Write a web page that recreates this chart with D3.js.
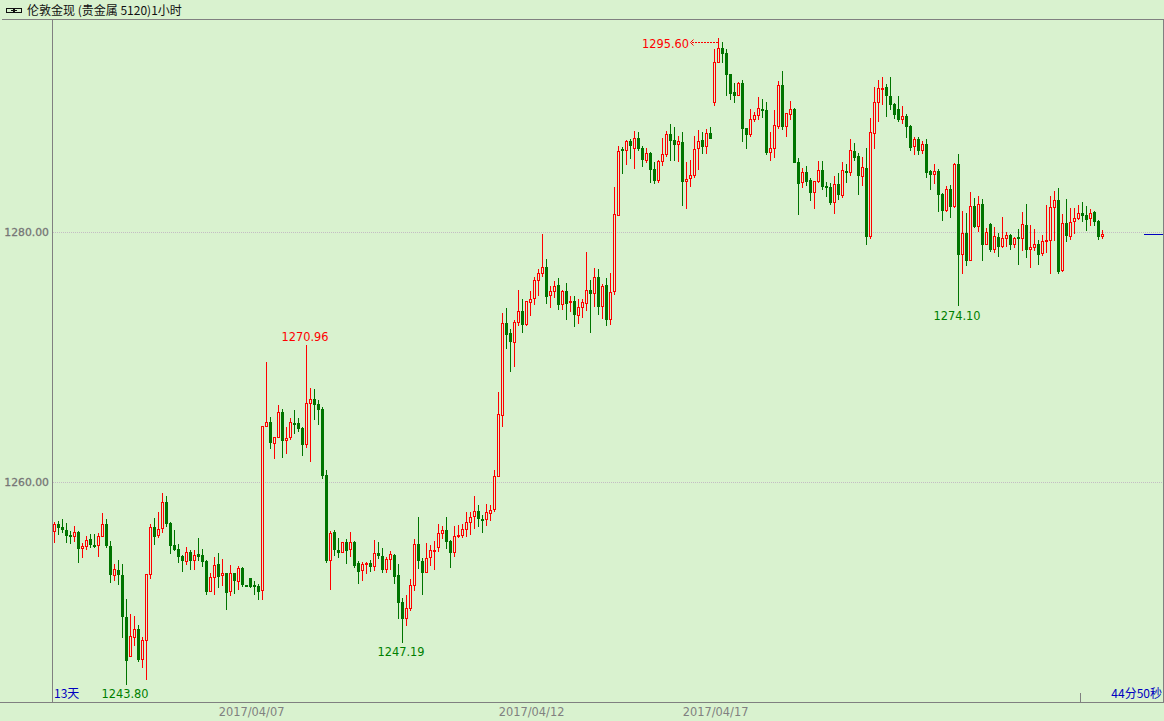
<!DOCTYPE html>
<html><head><meta charset="utf-8">
<script src="https://cdn.jsdelivr.net/npm/d3@7/dist/d3.min.js"></script>
<style>html,body{margin:0;padding:0;background:#d9f2cf;overflow:hidden}svg{display:block}</style>
</head><body><svg id="c" width="1164" height="721"></svg>
<script>
const titleText = "伦敦金现 (贵金属 5120)1小时";
const rangeText = "13天";
const countdownText = "44分50秒";
const priceTicks = [1260, 1280];
const dateTickLabels = ["2017/04/07", "2017/04/12", "2017/04/17"];
const dateTickIndex = [49.4, 119.4, 165.4];
const highMark = {index:166};
const opens = [1256.04,1256.68,1256.44,1256.20,1255.80,1255.64,1256.04,1254.68,1254.84,1255.48,1255.00,1254.92,1255.64,1256.68,1254.92,1252.52,1253.00,1252.60,1249.24,1246.04,1247.56,1248.28,1245.80,1247.32,1252.60,1256.44,1255.72,1256.28,1258.44,1256.76,1255.00,1254.68,1254.12,1253.64,1254.44,1253.72,1254.28,1254.20,1253.72,1251.24,1252.36,1253.48,1252.52,1252.76,1251.24,1252.76,1252.04,1253.16,1251.80,1252.36,1251.80,1251.72,1251.32,1264.44,1264.84,1263.08,1263.56,1265.64,1263.32,1263.56,1264.76,1264.76,1264.36,1263.00,1266.28,1266.68,1266.28,1265.88,1260.60,1253.72,1256.04,1254.60,1254.36,1255.24,1254.60,1255.24,1253.56,1252.92,1253.40,1253.56,1253.24,1254.36,1254.12,1253.00,1253.80,1254.20,1252.60,1250.44,1249.08,1249.88,1251.72,1255.08,1253.72,1252.76,1253.96,1254.52,1254.76,1255.88,1256.20,1255.32,1254.36,1255.64,1255.72,1256.20,1256.76,1257.24,1257.72,1257.08,1257.00,1257.48,1257.80,1260.44,1265.32,1272.76,1271.96,1271.16,1272.76,1273.72,1272.60,1274.36,1274.68,1276.12,1276.68,1277.24,1274.92,1275.24,1275.80,1274.20,1275.32,1274.36,1274.52,1273.32,1273.96,1274.28,1275.40,1275.08,1276.44,1274.04,1275.80,1273.00,1275.24,1281.32,1286.68,1286.52,1287.32,1286.68,1287.56,1286.76,1285.72,1286.36,1285.08,1284.12,1285.64,1286.20,1287.88,1287.40,1287.00,1287.24,1284.04,1284.28,1284.52,1286.68,1287.40,1286.84,1287.96,1290.36,1293.56,1294.76,1294.36,1292.68,1291.24,1290.92,1291.96,1288.36,1287.80,1289.00,1289.32,1289.88,1289.80,1286.36,1286.68,1288.44,1291.80,1288.44,1289.40,1289.88,1285.64,1283.96,1284.84,1284.20,1283.16,1284.04,1285.00,1283.72,1283.64,1282.36,1283.88,1282.92,1284.92,1284.76,1286.52,1286.12,1284.44,1285.16,1279.64,1287.88,1290.36,1291.48,1291.64,1290.92,1290.28,1289.88,1289.00,1289.32,1288.52,1286.84,1287.48,1286.52,1287.08,1284.92,1284.60,1284.92,1283.08,1281.72,1283.48,1282.04,1285.48,1278.20,1279.96,1277.72,1282.12,1280.44,1282.28,1279.00,1280.68,1278.60,1279.64,1278.84,1279.48,1279.80,1279.00,1279.64,1279.48,1280.60,1278.60,1278.76,1279.08,1278.28,1279.32,1279.32,1281.96,1282.60,1276.92,1280.76,1279.64,1280.84,1281.08,1281.56,1281.40,1281.08,1281.64,1280.92,1279.64];
const highs = [1256.84,1256.92,1257.08,1256.76,1256.12,1256.52,1256.12,1255.16,1255.72,1255.88,1255.88,1255.96,1257.56,1257.08,1255.32,1253.48,1253.80,1253.48,1250.68,1249.48,1249.32,1248.60,1247.64,1252.68,1256.68,1257.16,1257.64,1259.16,1258.92,1256.84,1256.20,1255.08,1254.20,1254.84,1254.60,1254.60,1255.56,1254.68,1253.80,1252.76,1254.04,1254.36,1253.88,1252.76,1253.40,1252.76,1253.32,1253.24,1251.80,1252.36,1252.12,1251.88,1264.52,1269.64,1265.24,1263.64,1266.20,1265.88,1264.44,1265.16,1265.80,1265.16,1264.44,1270.96,1267.56,1267.48,1266.60,1266.04,1261.00,1256.12,1256.20,1255.56,1255.24,1255.48,1256.04,1255.32,1253.72,1253.64,1253.64,1253.80,1255.40,1255.24,1254.76,1254.04,1254.52,1254.28,1253.48,1250.76,1251.00,1252.28,1255.48,1257.24,1253.96,1255.16,1255.00,1255.32,1256.68,1256.52,1257.24,1255.40,1256.52,1256.60,1256.68,1257.64,1257.64,1258.92,1258.20,1257.40,1258.28,1258.20,1261.00,1267.24,1273.56,1273.96,1272.28,1273.00,1275.40,1274.68,1274.52,1275.32,1276.44,1277.08,1279.88,1277.88,1275.72,1276.12,1276.36,1275.40,1275.96,1274.92,1274.92,1274.68,1274.68,1278.44,1276.20,1277.16,1277.08,1275.88,1276.36,1276.76,1283.64,1286.92,1286.84,1287.40,1287.48,1288.12,1288.04,1286.92,1286.76,1286.44,1285.64,1285.80,1287.56,1288.12,1288.68,1288.44,1287.72,1288.04,1285.64,1285.80,1287.72,1288.20,1288.04,1288.28,1288.44,1294.68,1295.60,1295.24,1294.68,1292.68,1291.96,1292.04,1292.20,1288.36,1289.88,1289.64,1290.84,1290.68,1290.44,1288.04,1289.80,1292.12,1292.92,1289.56,1290.52,1289.96,1285.96,1285.16,1285.32,1284.36,1284.12,1285.72,1285.72,1284.04,1283.96,1284.52,1284.76,1285.64,1285.48,1287.48,1287.16,1286.36,1286.04,1286.76,1289.16,1291.64,1292.20,1292.44,1291.88,1292.44,1290.36,1290.92,1290.12,1289.48,1288.60,1287.64,1287.64,1287.32,1287.48,1285.00,1285.48,1285.08,1283.16,1283.72,1283.80,1285.56,1286.28,1281.72,1281.56,1283.24,1282.76,1282.92,1282.68,1280.36,1280.76,1280.44,1279.96,1281.24,1280.04,1279.88,1279.64,1280.28,1281.64,1282.28,1280.60,1280.28,1279.40,1279.80,1282.20,1282.92,1283.32,1283.56,1281.48,1282.68,1281.96,1281.96,1282.20,1282.44,1282.12,1281.88,1281.72,1281.00,1280.20];
const lows = [1255.16,1255.80,1255.96,1255.16,1255.08,1255.24,1253.56,1253.96,1254.60,1254.76,1254.76,1254.04,1255.64,1254.76,1251.96,1252.12,1251.80,1247.56,1243.80,1246.04,1246.92,1245.64,1245.16,1244.20,1252.28,1255.00,1255.56,1255.96,1256.44,1254.28,1254.52,1253.56,1252.84,1253.40,1253.00,1253.00,1253.72,1253.24,1251.00,1251.24,1251.00,1251.56,1251.72,1249.80,1250.92,1251.08,1251.40,1251.64,1251.64,1251.56,1251.00,1250.60,1250.60,1264.44,1262.68,1261.88,1263.56,1261.96,1262.28,1263.40,1263.88,1264.04,1262.12,1262.76,1261.64,1265.00,1264.60,1260.28,1253.56,1251.40,1254.12,1253.96,1254.36,1253.48,1254.04,1253.16,1251.88,1252.12,1252.68,1252.84,1252.92,1253.88,1252.76,1252.76,1253.00,1251.88,1249.08,1247.19,1248.52,1249.72,1251.32,1253.08,1251.00,1252.76,1253.32,1253.00,1254.44,1255.48,1254.68,1253.16,1254.04,1255.56,1255.56,1255.64,1255.80,1256.28,1256.44,1255.96,1256.52,1256.92,1257.64,1260.44,1264.44,1270.68,1268.84,1269.24,1272.52,1271.96,1272.52,1273.32,1274.20,1274.92,1276.44,1274.28,1273.96,1274.76,1273.80,1273.80,1273.00,1273.64,1272.44,1272.68,1273.16,1273.72,1271.96,1274.04,1273.40,1273.08,1272.52,1272.60,1275.00,1281.32,1284.68,1285.40,1285.88,1285.08,1286.52,1285.24,1285.56,1283.96,1283.88,1283.96,1285.32,1286.04,1285.72,1285.72,1285.64,1282.12,1281.88,1283.64,1284.36,1285.00,1286.28,1286.28,1287.48,1290.12,1293.56,1293.56,1290.92,1290.60,1290.36,1290.92,1287.24,1286.68,1287.64,1288.84,1289.00,1289.16,1286.20,1285.72,1285.96,1288.28,1288.20,1287.64,1289.00,1285.56,1281.40,1283.56,1283.72,1282.52,1281.88,1283.96,1283.40,1282.84,1282.20,1281.48,1282.60,1282.76,1283.96,1284.52,1285.72,1283.00,1283.72,1279.00,1279.48,1286.68,1288.84,1290.20,1289.24,1289.80,1289.08,1288.84,1288.68,1287.56,1286.52,1286.20,1286.20,1286.28,1284.36,1283.40,1283.88,1281.64,1280.92,1281.64,1281.16,1281.96,1274.10,1276.68,1277.32,1277.72,1280.36,1280.04,1277.72,1279.00,1278.44,1278.36,1278.04,1278.76,1278.84,1278.60,1278.76,1277.40,1278.52,1277.96,1277.16,1278.52,1277.40,1278.12,1278.36,1276.68,1279.32,1276.68,1276.84,1279.24,1279.40,1279.88,1281.00,1280.84,1280.12,1280.52,1280.52,1279.40,1279.48];
const closes = [1256.68,1256.36,1256.20,1255.72,1255.64,1256.04,1254.68,1254.92,1255.40,1255.00,1254.84,1255.72,1256.68,1254.92,1252.60,1253.08,1252.60,1249.24,1245.72,1247.72,1248.28,1245.80,1247.40,1252.68,1256.44,1255.64,1256.28,1258.44,1256.68,1254.92,1254.60,1254.04,1253.72,1254.44,1253.72,1254.20,1254.04,1253.64,1251.24,1252.44,1253.40,1252.44,1252.76,1251.16,1252.76,1252.12,1253.16,1251.80,1251.64,1251.64,1251.64,1251.24,1264.52,1264.84,1263.16,1263.64,1265.64,1263.32,1263.56,1264.84,1264.60,1264.28,1263.00,1266.36,1266.68,1266.20,1265.80,1260.52,1253.72,1255.96,1254.60,1254.36,1255.24,1254.52,1255.24,1253.32,1252.84,1253.48,1253.56,1253.24,1254.36,1254.12,1253.00,1253.88,1254.28,1252.44,1250.36,1249.08,1249.96,1251.80,1255.08,1253.72,1252.76,1253.96,1254.60,1254.60,1255.96,1256.20,1255.24,1254.36,1255.72,1255.80,1256.28,1256.84,1257.24,1257.72,1257.08,1256.92,1257.64,1257.80,1260.52,1265.48,1272.76,1271.80,1271.24,1272.84,1273.72,1272.60,1274.52,1274.68,1276.20,1276.76,1277.24,1274.84,1275.32,1275.72,1274.20,1275.32,1274.28,1274.52,1273.40,1274.04,1274.44,1275.40,1275.08,1276.44,1274.04,1275.72,1273.00,1275.24,1281.48,1286.52,1286.52,1287.32,1286.92,1287.56,1286.68,1285.80,1286.36,1285.00,1284.12,1285.72,1286.28,1287.88,1287.32,1287.00,1287.32,1284.04,1284.28,1284.60,1286.68,1287.32,1286.84,1287.96,1287.48,1293.64,1294.76,1294.28,1292.60,1291.08,1290.92,1291.96,1288.28,1287.80,1289.08,1289.40,1289.96,1289.72,1286.36,1286.76,1288.60,1291.80,1288.44,1289.56,1289.88,1285.56,1283.88,1284.84,1284.04,1283.16,1284.12,1285.00,1283.64,1283.56,1282.36,1283.88,1283.00,1285.00,1284.76,1286.60,1285.96,1284.52,1285.24,1279.64,1288.04,1290.44,1291.56,1291.56,1290.92,1290.20,1289.40,1289.00,1289.32,1288.44,1286.76,1287.48,1286.52,1287.08,1284.76,1284.60,1284.92,1283.00,1281.72,1283.48,1282.04,1285.48,1278.20,1279.96,1277.72,1282.12,1280.44,1282.28,1279.00,1280.04,1278.60,1279.72,1278.84,1279.56,1279.80,1279.00,1279.56,1279.48,1280.68,1278.60,1278.84,1279.08,1278.20,1279.32,1279.40,1282.04,1282.60,1276.84,1280.76,1279.72,1280.84,1281.16,1281.56,1281.32,1281.00,1281.56,1280.84,1279.64,1279.88];

const bg = "#d9f2cf", axisCol = "#808080", red = "#ff0000", green = "#007400", blue = "#0000c0", labelGreen = "#007f00";
const labelFont = "'DejaVu Sans', 'Liberation Sans', sans-serif";
const cjk = "'Noto Sans CJK SC', 'Liberation Sans', sans-serif";
const svg = d3.select("#c");
const x = d3.scaleLinear().domain([0, opens.length - 1]).range([54.5, 1102.5]);
const y = d3.scaleLinear().domain(priceTicks).range([482.5, 232.5]);
const py = v => Math.round(y(v));

svg.append("rect").attr("width",1164).attr("height",721).attr("fill",bg);

// frame
const frame = svg.append("g").attr("stroke",axisCol).attr("fill","none").attr("shape-rendering","crispEdges");
frame.append("path").attr("d","M2,19.5H1164M52.5,19.5V702.5M0,702.5H1164M1163.5,19.5V702.5M1080.5,693V702");

// grid + y labels using d3 axis
const yAxis = d3.axisLeft(y).tickValues(priceTicks).tickSize(0).tickPadding(3).tickFormat(d=>d.toFixed(2));
const gy = svg.append("g").attr("transform","translate(52,0)").call(yAxis);
gy.select(".domain").remove();
gy.selectAll("text").attr("font-family",labelFont).attr("font-size",10.8).attr("font-weight","normal").attr("fill","#6e6e6e").attr("stroke","#808080").attr("stroke-width",0.3).attr("dy","0.32em");
svg.append("g").selectAll("line").data(priceTicks).join("line")
  .attr("x1",53).attr("x2",1163).attr("y1",d=>y(d)).attr("y2",d=>y(d))
  .attr("stroke","#c4bcc4").attr("stroke-dasharray","1 1").attr("shape-rendering","crispEdges");

// date labels
const xAxis = d3.axisBottom(x).tickValues(dateTickIndex).tickSize(0).tickPadding(3).tickFormat((d,i)=>dateTickLabels[i]);
const gx = svg.append("g").attr("transform","translate(-1,705)").call(xAxis);
gx.select(".domain").remove();
gx.selectAll("text").attr("font-family",labelFont).attr("font-size",11.4).attr("fill",axisCol);

// candles
const idx = d3.range(opens.length);
const isUp = i => closes[i] >= opens[i];
svg.append("g").attr("shape-rendering","crispEdges").selectAll("line").data(idx).join("line")
  .attr("x1",i=>x(i)).attr("x2",i=>x(i))
  .attr("y1",i=>py(highs[i])).attr("y2",i=>py(lows[i]))
  .attr("stroke",i=>isUp(i)?red:green);
svg.append("g").attr("shape-rendering","crispEdges").selectAll("rect").data(idx.filter(i=>!isUp(i))).join("rect")
  .attr("x",i=>x(i)-1.5).attr("width",3)
  .attr("y",i=>py(opens[i])).attr("height",i=>Math.max(1,py(closes[i])-py(opens[i])))
  .attr("fill",green);
svg.append("g").attr("shape-rendering","crispEdges").selectAll("rect").data(idx.filter(isUp)).join("rect")
  .attr("x",i=>x(i)-1).attr("width",2)
  .attr("y",i=>py(closes[i])+0.5).attr("height",i=>Math.max(1,py(opens[i])-py(closes[i])-1))
  .attr("fill",bg).attr("stroke",red);

// extreme labels
const ext = (i,v,dx,yy,col) => svg.append("text").attr("x",x(i)+dx).attr("y",yy).attr("text-anchor","middle")
  .attr("font-family",labelFont).attr("font-size",11.4).attr("fill",col).attr("dominant-baseline","central").text(v.toFixed(2));
ext(63,highs[63],-1.5,py(highs[63])-8,red);
ext(18,lows[18],-1.5,py(lows[18])+9,labelGreen);
ext(87,lows[87],-1.5,py(lows[87])+9,labelGreen);
ext(226,lows[226],-1.5,py(lows[226])+10,labelGreen);
const hi = highMark.index, hy = py(highs[hi]) + 4.5;
svg.append("text").attr("x",x(hi)-29.5).attr("y",hy+1).attr("text-anchor","end").attr("font-family",labelFont)
  .attr("font-size",11.4).attr("fill",red).attr("dominant-baseline","central").text(highs[hi].toFixed(2));
svg.append("line").attr("x1",x(hi)-27).attr("x2",x(hi)).attr("y1",hy).attr("y2",hy)
  .attr("stroke",red).attr("stroke-dasharray","2 1").attr("shape-rendering","crispEdges");
svg.append("path").attr("d",`M${x(hi)-25},${hy-3}L${x(hi)-28},${hy}L${x(hi)-25},${hy+3}`).attr("fill","none").attr("stroke",red);

// corner text
svg.append("text").attr("x",54).attr("y",698).attr("font-family",cjk).attr("font-size",12).attr("fill",blue).text(rangeText);
svg.append("text").attr("x",1162).attr("y",698).attr("text-anchor","end").attr("font-family",cjk).attr("font-size",12).attr("fill",blue).text(countdownText);
svg.append("line").attr("x1",1144).attr("x2",1163).attr("y1",y(1280)+2).attr("y2",y(1280)+2).attr("stroke",blue).attr("shape-rendering","crispEdges");

// title
svg.append("path").attr("d","M6.5,8.5H13.5V12.5H6.5ZM14.5,8.5H21.5V12.5H14.5ZM11,10.5H17").attr("fill","none").attr("stroke","#111").attr("shape-rendering","crispEdges");
svg.append("text").attr("x",27).attr("y",14.5).attr("font-family",cjk).attr("font-size",12).attr("fill","#111").text(titleText);
</script></body></html>
